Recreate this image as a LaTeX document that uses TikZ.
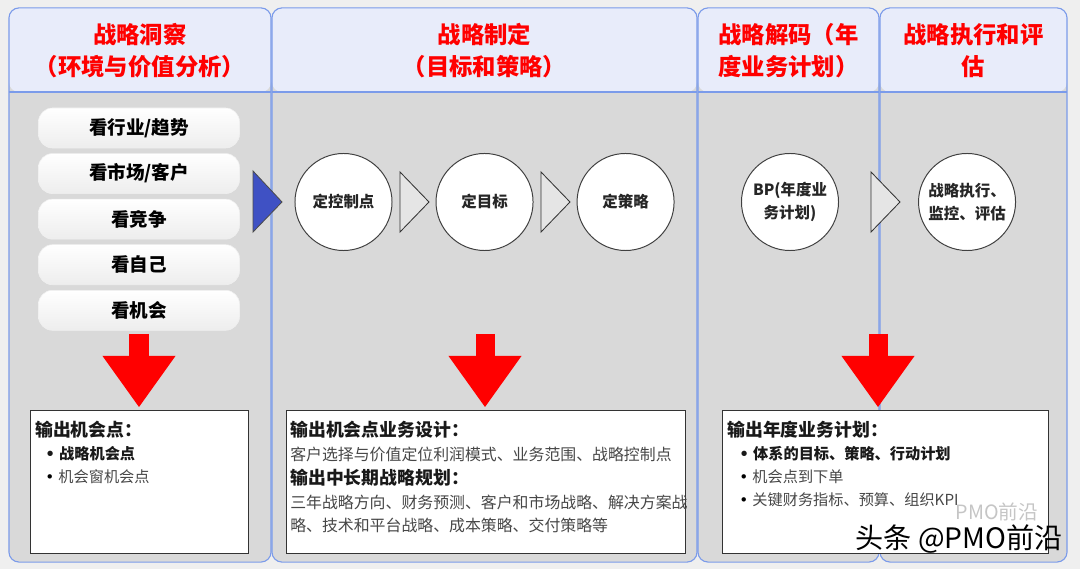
\documentclass[tikz,border=0pt]{standalone}
\usepackage{fontspec}
\setmainfont{Noto Sans CJK SC}
\newfontfamily\symfont{DejaVu Sans}
\usepackage{tikz}
\usetikzlibrary{positioning,arrows.meta}

\definecolor{pagegray}{HTML}{EFEFEF}
\definecolor{bodygray}{HTML}{D9D9D9}
\definecolor{headblue}{HTML}{E8ECFA}
\definecolor{laneblue}{HTML}{7B9BEA}
\definecolor{headred}{HTML}{FF0000}
\definecolor{triblue}{HTML}{3F51C4}

\begin{document}
\begin{tikzpicture}[x=0.025cm,y=-0.025cm,node distance=3.525cm,
    lane/.style={draw=laneblue,line width=0.8pt,fill=bodygray,rounded corners=0.25cm,
      minimum height=13.85cm,inner sep=0pt,
      path picture={
        \fill[headblue] (path picture bounding box.north west) rectangle
          ([yshift=-2.1cm]path picture bounding box.north east);
        \draw[laneblue,line width=0.8pt] ([yshift=-2.1cm]path picture bounding box.north west)
          -- ([yshift=-2.1cm]path picture bounding box.north east);}},
    headtext/.style={text=headred,align=center,inner sep=0pt,
      font=\bfseries\fontsize{16.6pt}{22.7pt}\selectfont},
    pill/.style={rounded corners=0.35cm,top color=white,bottom color=gray!14,
      draw=white!88!gray,minimum width=5.025cm,minimum height=1cm,inner sep=0pt,
      font=\bfseries\fontsize{13.2pt}{15pt}\selectfont},
    stage/.style={circle,draw=black!75,line width=0.7pt,fill=white,minimum size=2.425cm,
      inner sep=0pt,align=center,text=black!85,font=\bfseries\fontsize{11pt}{16pt}\selectfont},
    flowtri/.style={draw=black!80,line width=0.6pt,fill=black!10},
    bigarrow/.style={draw=headred,line width=0.475cm,shorten >=0.075cm,
      -{Triangle[width=1.825cm,length=1.275cm,line width=0pt]}},
    outbox/.style={draw=black!80,line width=0.7pt,fill=white,anchor=north west,
      minimum height=3.575cm,inner sep=0pt},
    boxhead/.style={anchor=west,inner sep=0pt,text=black!90,
      font=\bfseries\fontsize{12.7pt}{15pt}\selectfont},
    boxline/.style={anchor=west,inner sep=0pt,text=black!72,
      font=\fontsize{11.3pt}{14pt}\selectfont},
    boxitem/.style={boxline,font=\fontsize{10.8pt}{13pt}\selectfont},
    boxbold/.style={boxline,text=black!90,font=\bfseries\fontsize{10.8pt}{13pt}\selectfont}]

  \useasboundingbox[fill=pagegray] (0,0) rectangle (1080,569);

  \node[lane,minimum width=6.55cm] (lane1) at (140,285) {};
  \node[lane,minimum width=10.625cm] (lane2) at (484.5,285) {};
  \node[lane,minimum width=4.525cm] (lane3) at (788.5,285) {};
  \node[lane,minimum width=4.675cm] (lane4) at (973.5,285) {};

  \node[headtext] (h1) at ([yshift=-1.075cm]lane1.north) {战略洞察\\（环境与价值分析）};
  \node[headtext] (h2) at ([yshift=-1.075cm]lane2.north) {战略制定\\（目标和策略）};
  \node[headtext] (h3) at ([yshift=-1.075cm]lane3.north) {战略解码（年\\度业务计划）};
  \node[headtext] (h4) at ([yshift=-1.075cm]lane4.north) {战略执行和评\\估};

  \node[pill] (p1) at (139,128) {看行业/趋势};
  \node[pill,below=0.125cm of p1] (p2) {看市场/客户};
  \node[pill,below=0.125cm of p2] (p3) {看竞争};
  \node[pill,below=0.125cm of p3] (p4) {看自己};
  \node[pill,below=0.125cm of p4] (p5) {看机会};

  \draw[flowtri,fill=triblue,draw=black!70] (253,171) -- (282,202) -- (253,232) -- cycle;

  \node[stage] (c1) at (343.5,202) {定控制点};
  \node[stage] (c2) [right of=c1] {定目标};
  \node[stage] (c3) [right of=c2] {定策略};
  \node[stage] (c4) at (790,202) {BP(年度业\\务计划)};
  \node[stage,align=left,node distance=4.425cm] (c5) [right of=c4] {战略执行、\\监控、评估};

  \draw[flowtri] (400,172) -- (429,202) -- (400,232) -- cycle;
  \draw[flowtri] (541,172) -- (570,202) -- (541,232) -- cycle;
  \draw[flowtri] (871,172) -- (900,202) -- (871,232) -- cycle;

  \node[outbox,minimum width=5.45cm] (o1) at (30,410) {};
  \node[outbox,minimum width=9.975cm] (o2) at (286,410) {};
  \node[outbox,minimum width=8.15cm] (o3) at (722,410) {};

  \coordinate (d1) at (139,334);
  \coordinate (d2) at (485,334);
  \coordinate (d3) at (878,334);
  \draw[bigarrow] (d1) -- (d1 |- o1.north);
  \draw[bigarrow] (d2) -- (d2 |- o2.north);
  \draw[bigarrow] (d3) -- (d3 |- o3.north);

  \node[boxhead] (o1h) at ([xshift=0.125cm,yshift=-0.5cm]o1.north west) {输出机会点：};
  \node[boxbold] (o1a) at ([xshift=0.375cm,yshift=-1.1cm]o1.north west) {{\symfont •}\hspace{3pt}战略机会点};
  \node[boxitem] (o1b) at ([xshift=0.375cm,yshift=-1.675cm]o1.north west) {{\symfont\color{black} •}\hspace{3pt}机会窗机会点};

  \node[boxhead] (o2h) at ([xshift=0.1cm,yshift=-0.5cm]o2.north west) {输出机会点业务设计：};
  \node[boxline] (o2a) at ([xshift=0.1cm,yshift=-1.1cm]o2.north west) {客户选择与价值定位利润模式、业务范围、战略控制点};
  \node[boxhead] (o2k) at ([xshift=0.1cm,yshift=-1.7cm]o2.north west) {输出中长期战略规划：};
  \node[boxline] (o2b) at ([xshift=0.1cm,yshift=-2.3cm]o2.north west) {三年战略方向、财务预测、客户和市场战略、解决方案战};
  \node[boxline] (o2c) at ([xshift=0.1cm,yshift=-2.875cm]o2.north west) {略、技术和平台战略、成本策略、交付策略等};

  \node[boxhead] (o3h) at ([xshift=0.125cm,yshift=-0.5cm]o3.north west) {输出年度业务计划：};
  \node[boxbold] (o3a) at ([xshift=0.425cm,yshift=-1.1cm]o3.north west) {{\symfont •}\hspace{3pt}体系的目标、策略、行动计划};
  \node[boxitem] (o3b) at ([xshift=0.425cm,yshift=-1.675cm]o3.north west) {{\symfont\color{black} •}\hspace{3pt}机会点到下单};
  \node[boxitem] (o3c) at ([xshift=0.425cm,yshift=-2.25cm]o3.north west) {{\symfont\color{black} •}\hspace{3pt}关键财务指标、预算、组织KPI};

  \node[text=gray,opacity=0.45,inner sep=0pt,font=\fontsize{14pt}{16pt}\selectfont] (wm1) at (997,512) {PMO前沿};
  \node[anchor=east,inner sep=0pt,font=\fontsize{20pt}{22pt}\selectfont] (wm2) at (1063,539) {头条 @PMO前沿};

\end{tikzpicture}
\end{document}
